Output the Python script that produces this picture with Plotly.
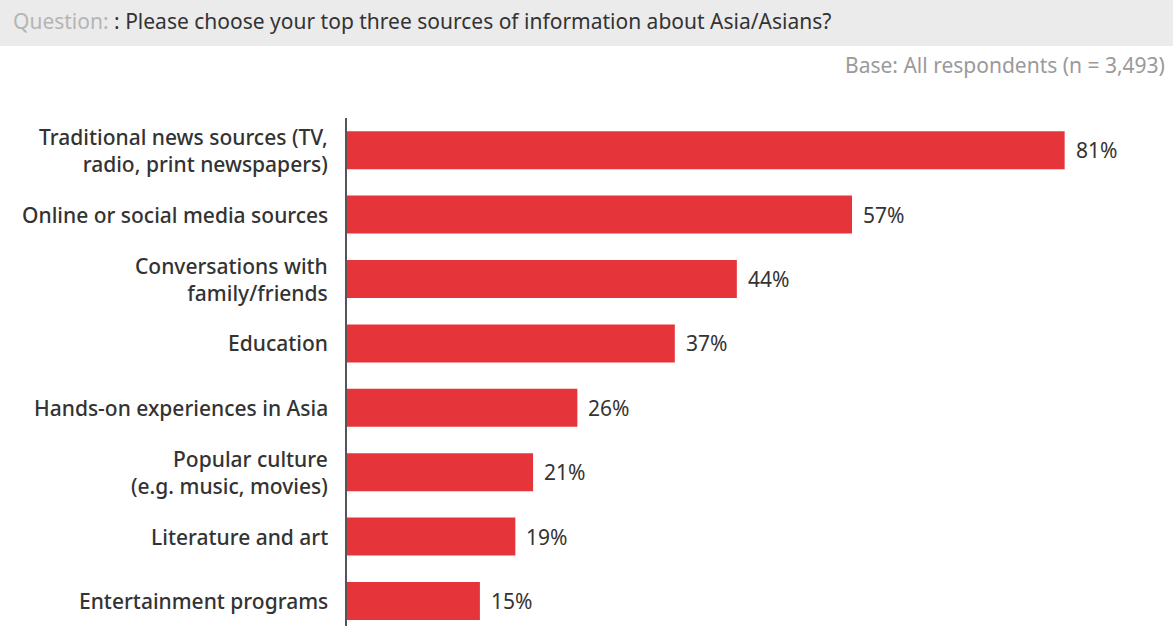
import plotly.graph_objects as go

# Survey responses, top to bottom
categories = [
    "Traditional news sources (TV,<br>radio, print newspapers)",
    "Online or social media sources",
    "Conversations with<br>family/friends",
    "Education",
    "Hands-on experiences in Asia",
    "Popular culture<br>(e.g. music, movies)",
    "Literature and art",
    "Entertainment programs",
]
shares = [81, 57, 44, 37, 26, 21, 19, 15]

question_prefix = "Question:"
question_text = ": Please choose your top three sources of information about Asia/Asians?"
base_note = "Base: All respondents (n = 3,493)"

W, H = 1173, 626
M_L, M_R, M_T, M_B = 347, 0, 118, 0
plot_h = H - M_T - M_B
plot_w = W - M_L - M_R

BAR_RED = "#e5353a"
TEXT_DARK = "#333333"
FONT = "Noto Sans"
FS = 21


def py(pix):
    """Convert a pixel row (from the top) to paper y."""
    return (H - M_B - pix) / plot_h


def px(pix):
    """Convert a pixel column to paper x."""
    return (pix - M_L) / plot_w


fig = go.Figure(
    go.Bar(
        x=shares,
        y=categories,
        orientation="h",
        marker=dict(color=BAR_RED, line=dict(width=0)),
        width=0.59,
        hoverinfo="skip",
    )
)

# category labels, right-aligned against the axis line
for cat in categories:
    fig.add_annotation(
        x=0, y=cat, xref="paper", yref="y",
        text=cat, showarrow=False, align="right",
        xanchor="right", yanchor="middle", xshift=-17,
        font=dict(family=FONT, size=FS, color=TEXT_DARK, weight=500),
    )

# value labels to the right of each bar
for cat, val in zip(categories, shares):
    fig.add_annotation(
        x=val, y=cat, xref="x", yref="y",
        text=f"{val}%", showarrow=False,
        xanchor="left", yanchor="middle", xshift=9,
        font=dict(family=FONT, size=FS, color=TEXT_DARK),
    )

# grey question band
fig.add_shape(
    type="rect", xref="paper", yref="paper",
    x0=px(0), x1=px(W), y0=py(46), y1=py(0),
    fillcolor="#ebebeb", line=dict(width=0), layer="below",
)
fig.add_annotation(
    xref="paper", yref="paper", x=px(11), y=py(21),
    xanchor="left", yanchor="middle", showarrow=False,
    text=f"<span style='color:#b5b5b5'>{question_prefix}</span> {question_text}",
    font=dict(family=FONT, size=FS, color=TEXT_DARK),
)
fig.add_annotation(
    xref="paper", yref="paper", x=px(1167), y=py(65),
    xanchor="right", yanchor="middle", showarrow=False,
    text=base_note,
    font=dict(family=FONT, size=FS, color="#9a9a9a"),
)

fig.update_layout(
    width=W, height=H,
    margin=dict(l=M_L, r=M_R, t=M_T, b=M_B, pad=0),
    paper_bgcolor="white", plot_bgcolor="white",
    showlegend=False,
    xaxis=dict(
        range=[0, plot_w / 8.86], showgrid=False, zeroline=False,
        showticklabels=False, showline=False, fixedrange=True,
    ),
    yaxis=dict(
        categoryorder="array", categoryarray=categories,
        range=[(H - M_T) / 64.4 - 0.5, -0.5],
        showgrid=False, zeroline=False, showline=True,
        linecolor="#555555", linewidth=1.5, ticks="",
        showticklabels=False, fixedrange=True,
    ),
)

fig.write_html("out.html")
